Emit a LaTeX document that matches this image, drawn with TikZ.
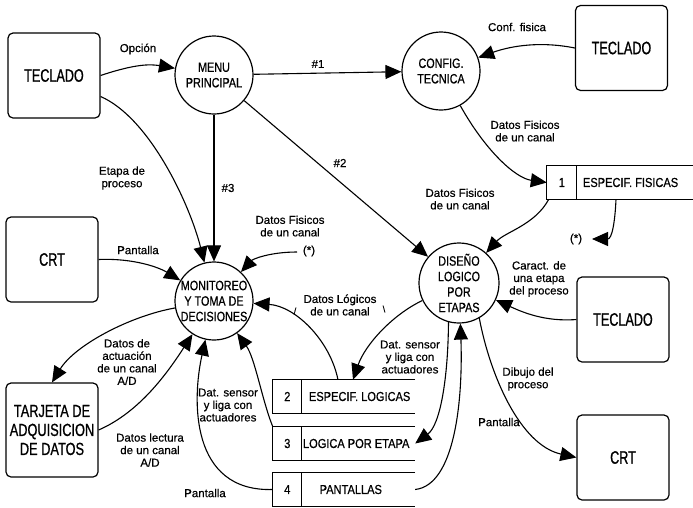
\documentclass[tikz,border=0pt]{standalone}
\usepackage{fontspec}
\setmainfont{Liberation Sans}[FakeBold=0.5]
\newfontfamily\boxfont[FakeStretch=0.7,FakeBold=0.8]{Liberation Sans}
\newfontfamily\tarjfont[FakeStretch=0.73,FakeBold=0.8]{Liberation Sans}
\newfontfamily\procfont[FakeStretch=0.8,FakeBold=0.7]{Liberation Sans}
\newfontfamily\storefont[FakeStretch=0.85,FakeBold=0.7]{Liberation Sans}
\usetikzlibrary{arrows.meta}
\begin{document}
\begin{tikzpicture}[x=1pt,y=-1pt,
  ext/.style={draw, line width=1.2pt, rounded corners=5pt, minimum width=92pt,
    minimum height=85pt, font=\boxfont\fontsize{18}{18.5}\selectfont, align=center, inner sep=0pt},
  proc/.style={draw, circle, line width=1.2pt, minimum size=78pt, inner sep=0pt},
  ptext/.style={font=\procfont\fontsize{13.5}{15.5}\selectfont, align=center, inner sep=0pt},
  store/.style={minimum width=142pt, minimum height=33pt, inner sep=0pt},
  stline/.style={line width=1.3pt},
  stext/.style={font=\storefont\fontsize{13}{15}\selectfont, inner sep=0pt},
  lbl/.style={font=\fontsize{11.5}{12.5}\selectfont, align=center, inner sep=1pt},
  flow/.style={line width=1.1pt, -{Triangle[length=16pt,width=14pt]}},
]
\useasboundingbox[fill=white] (0,0) rectangle (693,507);

% external entities
\node[ext] (tecL) at (54,75.5) {TECLADO};
\node[ext] (tecR) at (621.5,48) {TECLADO};
\node[ext] (crtL) at (52,259.5) {CRT};
\node[ext, minimum height=94pt, font=\tarjfont\fontsize{17.5}{19}\selectfont] (tarj) at (52,430) {TARJETA DE\\ADQUISICION\\DE DATOS};
\node[ext] (tecM) at (623,319.5) {TECLADO};
\node[ext] (crtR) at (623,457.5) {CRT};

% processes
\node[proc] (menu) at (214,75) {};
\node[ptext] (menuT) at (menu) {MENU\\PRINCIPAL};
\node[proc] (config) at (441,71) {};
\node[ptext] (configT) at (config) {CONFIG.\\TECNICA};
\node[proc] (mon) at (214,301) {};
\node[ptext] (monT) at (mon) {MONITOREO\\Y TOMA DE\\DECISIONES};
\node[proc, minimum size=80pt] (dis) at (459,283) {};
\node[ptext] (disT) at (dis) {DISEÑO\\LOGICO\\POR\\ETAPAS};

% data stores
\node[store, minimum width=146pt] (s1) at (620,182.5) {};
\draw[stline] (s1.north east) -- (s1.north west) -- (s1.south west) -- (s1.south east);
\draw[stline] ([xshift=30pt]s1.north west) -- ([xshift=30pt]s1.south west);
\node[stext] (s1n) at ([xshift=15pt]s1.west) {1};
\node[stext, anchor=west] (s1t) at ([xshift=36pt]s1.west) {ESPECIF. FISICAS};

\node[store] (s2) at (344,396.5) {};
\draw[stline] (s2.north east) -- (s2.north west) -- (s2.south west) -- (s2.south east);
\draw[stline] ([xshift=29pt]s2.north west) -- ([xshift=29pt]s2.south west);
\node[stext] (s2n) at ([xshift=14.5pt]s2.west) {2};
\node[stext, anchor=west] (s2t) at ([xshift=36pt]s2.west) {ESPECIF. LOGICAS};

\node[store] (s3) at (344,443.5) {};
\draw[stline] (s3.north east) -- (s3.north west) -- (s3.south west) -- (s3.south east);
\draw[stline] ([xshift=29pt]s3.north west) -- ([xshift=29pt]s3.south west);
\node[stext] (s3n) at ([xshift=14.5pt]s3.west) {3};
\node[stext, anchor=west] (s3t) at ([xshift=30pt]s3.west) {LOGICA POR ETAPA};

\node[store] (s4) at (344,489.5) {};
\draw[stline] (s4.north east) -- (s4.north west) -- (s4.south west) -- (s4.south east);
\draw[stline] ([xshift=29pt]s4.north west) -- ([xshift=29pt]s4.south west);
\node[stext] (s4n) at ([xshift=14.5pt]s4.west) {4};
\node[stext] (s4t) at ([xshift=78pt]s4.west) {PANTALLAS};

% free ends
\coordinate (fs) at (297,252);
\coordinate (ast) at (592,239);

% flows
\draw[flow] (tecL.east) .. controls (135,64) and (150,64) .. (menu);
\draw[flow] (menu) -- (config);
\draw[flow] (menu) -- (mon);
\draw[flow] (menu) -- (dis);
\draw[flow] ([yshift=-21pt]tecL.east) .. controls (150,118) and (190,205) .. (mon);
\draw[flow] (crtL.east) .. controls (135,258) and (160,268) .. (mon);
\draw[flow] (fs) .. controls (270,252) and (253,259) .. (mon);
\draw[flow] (tecR.west) .. controls (535,40) and (505,48) .. (config);
\draw[flow] (config) .. controls (485,150) and (515,178) .. (s1.west);
\draw[flow] ([xshift=2pt]s1.south west) .. controls (535,225) and (505,232) .. (dis);
\draw[flow] ([xshift=-4pt]s1.south) .. controls (615,222) and (612,239) .. (ast);
\draw[flow] (tecM.west) .. controls (545,322) and (522,312) .. (dis);
\draw[flow] (dis.300) .. controls (490,375) and (520,445) .. (crtR.west);
\draw[flow] (dis) .. controls (392,315) and (365,345) .. ([xshift=9pt]s2.north);
\draw[flow] ([xshift=-6pt]s2.north) .. controls (330,340) and (295,306) .. (mon);
\draw[flow] (s3.north west) .. controls (262,400) and (255,358) .. (mon);
\draw[flow] (s4.west) .. controls (190,492) and (192,400) .. (mon);
\draw[flow] (mon) .. controls (130,316) and (75,345) .. (tarj.north);
\draw[flow] (tarj.east) .. controls (140,412) and (168,372) .. (mon);
\draw[flow] (s4.east) .. controls (455,485) and (463,400) .. (dis);
\draw[flow] (dis.255) .. controls (448,380) and (440,425) .. (s3.east);

% labels
\node[lbl] (lOp) at (138,49) {Opción};
\node[lbl] (l1) at (318,64) {\#1};
\node[lbl] (l2) at (340,163) {\#2};
\node[lbl] (l3) at (228,188) {\#3};
\node[lbl] (lEt) at (122,178) {Etapa de\\proceso};
\node[lbl] (lCf) at (517,27) {Conf. fisica};
\node[lbl] (lDF1) at (525,131) {Datos Fisicos\\de un canal};
\node[lbl] (lDF2) at (460,199) {Datos Fisicos\\de un canal};
\node[lbl] (lAst) at (576,239) {(*)};
\node[lbl] (lCar) at (539,279) {Caract. de\\una etapa\\del proceso};
\node[lbl] (lPa1) at (138,250) {Pantalla};
\node[lbl] (lDF3) at (290,226) {Datos Fisicos\\de un canal};
\node[lbl] (lAst2) at (309,251) {(*)};
\node[lbl] (lDL) at (340,305) {Datos Lógicos\\de un canal};
\node[lbl, font=\fontsize{9}{10}\selectfont] (lsl) at (295,311) {/};
\node[lbl, font=\fontsize{9}{10}\selectfont] (lbs) at (384,309) {\textbackslash};
\node[lbl] (lDS1) at (410,357) {Dat. sensor\\y liga con\\actuadores};
\node[lbl] (lAct) at (127,362) {Datos de\\actuación\\de un canal\\A/D};
\node[lbl] (lLec) at (150,450) {Datos lectura\\de un canal\\A/D};
\node[lbl] (lDS2) at (228,405) {Dat. sensor\\y liga con\\actuadores};
\node[lbl] (lPa2) at (205,493) {Pantalla};
\node[lbl] (lPa3) at (499,422) {Pantalla};
\node[lbl] (lDib) at (528,379) {Dibujo del\\proceso};
\end{tikzpicture}
\end{document}
